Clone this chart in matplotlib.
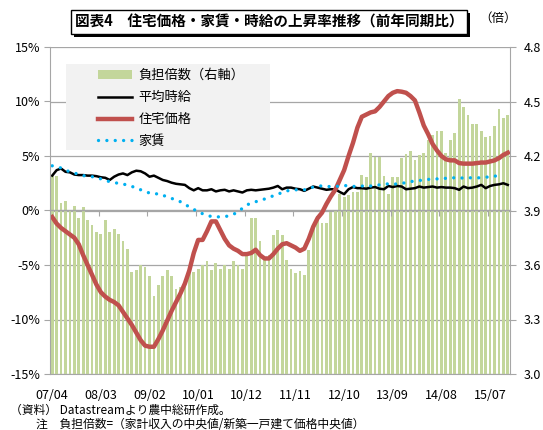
import numpy as np
import pandas as pd
import matplotlib
matplotlib.use("Agg")
import matplotlib.pyplot as plt
import matplotlib.patheffects as pe
from matplotlib.patches import Patch, Rectangle
from matplotlib.lines import Line2D

plt.rcParams['font.family'] = ['Noto Sans CJK JP', 'DejaVu Sans']

# monthly categories 2007/04 - 2015/11
months = list(pd.period_range('2007-04', periods=104, freq='M').strftime('%y/%m'))

# 負担倍数 (right axis, times)
burden = [4.095, 4.09, 3.94, 3.95, 3.90, 3.925, 3.86, 3.92, 3.85, 3.82,
          3.78, 3.77, 3.85, 3.78, 3.80, 3.77, 3.73, 3.69, 3.56, 3.57,
          3.60, 3.59, 3.54, 3.43, 3.49, 3.54, 3.57, 3.54, 3.47, 3.48,
          3.52, 3.56, 3.56, 3.58, 3.60, 3.62, 3.57, 3.61, 3.58, 3.60,
          3.58, 3.62, 3.60, 3.58, 3.655, 3.86, 3.86, 3.73, 3.63, 3.655,
          3.765, 3.79, 3.765, 3.63, 3.58, 3.555, 3.565, 3.545, 3.68, 3.82,
          3.87, 3.83, 3.83, 3.89, 3.895, 3.99, 3.975, 3.985, 4.00, 4.00,
          4.095, 4.085, 4.215, 4.195, 4.195, 4.09, 3.99, 4.085, 4.085, 4.19,
          4.21, 4.23, 4.18, 4.205, 4.215, 4.29, 4.315, 4.335, 4.34, 4.215,
          4.29, 4.325, 4.515, 4.47, 4.425, 4.375, 4.375, 4.34, 4.305, 4.31,
          4.365, 4.46, 4.41, 4.425]

# 平均時給 (%)
wage = [3.2, 3.7, 3.85, 3.55, 3.5, 3.3, 3.25, 3.25, 3.2, 3.2,
        3.15, 3.05, 3.0, 2.8, 3.1, 3.3, 3.4, 3.25, 3.5, 3.65,
        3.6, 3.4, 3.1, 3.2, 3.0, 2.8, 2.7, 2.55, 2.45, 2.4,
        2.35, 2.05, 1.85, 2.05, 1.85, 1.85, 1.95, 1.75, 1.85, 1.9,
        1.75, 1.85, 1.75, 1.65, 1.85, 1.9, 1.85, 1.9, 1.95, 2.0,
        2.1, 2.25, 1.95, 2.1, 2.1, 2.0, 1.95, 1.8, 2.0, 2.2,
        2.1, 2.0, 1.9, 1.95, 1.95, 1.7, 1.5, 1.95, 2.15, 2.05,
        2.05, 2.0, 2.1, 2.15, 2.0, 1.95, 2.25, 2.15, 2.25, 2.2,
        1.95, 2.0, 2.05, 2.2, 2.1, 2.15, 2.2, 2.1, 2.15, 2.1,
        2.1, 2.05, 1.9, 2.2, 2.05, 2.1, 2.2, 2.35, 2.05, 2.25,
        2.35, 2.4, 2.5, 2.35]

# 住宅価格 (%)
house = [-0.6, -1.2, -1.6, -1.9, -2.2, -2.5, -3.1, -4.1, -5.0, -5.9,
         -6.8, -7.5, -7.9, -8.2, -8.4, -8.7, -9.3, -9.9, -10.5, -11.2,
         -11.9, -12.4, -12.5, -12.5, -11.8, -11.0, -10.1, -9.2, -8.4, -7.6,
         -6.7, -5.5, -3.9, -2.7, -2.7, -1.9, -1.0, -1.0, -1.8, -2.6,
         -3.2, -3.5, -3.7, -4.0, -4.0, -3.9, -3.6, -4.1, -4.4, -4.4,
         -4.0, -3.5, -3.1, -3.0, -3.2, -3.4, -3.7, -3.5, -2.6, -1.5,
         -0.7, -0.2, 0.6, 1.3, 1.9, 2.8, 3.7, 5.0, 6.2, 7.6,
         8.6, 8.8, 9.0, 9.1, 9.5, 10.0, 10.5, 10.8, 10.95, 10.9,
         10.8, 10.5, 10.1, 9.0, 7.8, 7.0, 6.1, 5.5, 5.0, 4.7,
         4.6, 4.6, 4.35, 4.3, 4.3, 4.3, 4.35, 4.4, 4.4, 4.5,
         4.6, 4.8, 5.1, 5.3]

# 家賃 (%)
rent = [4.1, 4.0, 3.9, 3.7, 3.55, 3.45, 3.3, 3.2, 3.15, 3.1,
        3.05, 2.9, 2.75, 2.65, 2.55, 2.5, 2.45, 2.3, 2.2, 2.1,
        1.9, 1.75, 1.6, 1.5, 1.55, 1.4, 1.25, 1.1, 1.0, 0.8,
        0.6, 0.3, 0.1, -0.1, -0.3, -0.45, -0.55, -0.6, -0.57, -0.55,
        -0.5, -0.35, -0.1, 0.2, 0.5, 0.7, 0.8, 0.95, 1.05, 1.2,
        1.35, 1.5, 1.65, 1.8, 1.85, 1.9, 1.9, 1.9, 2.0, 2.15,
        2.25, 2.25, 2.2, 2.2, 2.2, 2.25, 2.3, 2.25, 2.2, 2.25,
        2.25, 2.2, 2.25, 2.3, 2.35, 2.4, 2.45, 2.4, 2.45, 2.5,
        2.55, 2.65, 2.7, 2.75, 2.8, 2.85, 2.9, 2.9, 2.95, 2.95,
        3.0, 3.0, 2.95, 3.0, 3.0, 3.0, 3.0, 3.0, 3.05, 3.1,
        3.15, 3.2, np.nan, np.nan]

labels = ['負担倍数（右軸）', '平均時給', '住宅価格', '家賃']

green = '#c3d69b'
red = '#c0504d'
blue = '#00b0f0'
gray = '#a6a6a6'

x = np.arange(len(months))

fig = plt.figure(figsize=(5.43, 4.30), dpi=100)
ax = fig.add_axes([50/543, 1-374/430, 460/543, 327/430])
ax2 = ax.twinx()
ax.set_zorder(ax2.get_zorder() + 1)
ax.patch.set_visible(False)

# bars on right axis
ax2.bar(x, burden, width=0.62, color=green, zorder=2)
ax2.set_ylim(3.0, 4.8)
ax2.set_yticks(np.arange(3.0, 4.81, 0.3))
ax2.yaxis.set_major_formatter(lambda v, p: f'{v:.1f}')
ax2.grid(axis='y', color=gray, lw=0.9)
ax2.set_axisbelow(True)

# lines on left axis
dots = (0, (0.01, 2.5))
ax.plot(x, wage, color='black', lw=1.8)
ax.plot(x, house, color=red, lw=3.2)
ax.plot(x, rent, color=blue, lw=2.4, ls=dots, dash_capstyle='round')

ax.set_ylim(-15, 15)
ax.set_yticks(np.arange(-15, 16, 5))
ax.yaxis.set_major_formatter(lambda v, p: f'{int(v)}%')
ax.set_xlim(-0.5, len(months) - 0.5)
ax.set_xticks(x[::11])
ax.set_xticklabels(months[::11])
ax.tick_params(axis='x', length=0, pad=11, labelsize=9)
ax.tick_params(axis='y', direction='out', length=4, color=gray, labelsize=9, pad=3)
ax2.tick_params(axis='y', direction='out', length=4, color=gray, labelsize=9, pad=6)

for s in ['top', 'right']:
    ax.spines[s].set_visible(False)
ax.spines['left'].set_color(gray)
ax.spines['bottom'].set_color(gray)
for s in ['top', 'left', 'bottom']:
    ax2.spines[s].set_visible(False)
ax2.spines['right'].set_color(gray)

# category axis crossing at 0%
sec = ax.secondary_xaxis(0.5)
sec.set_alignment('bottom')
sec.set_xticks(x[11::11] - 0.5)
sec.set_xticklabels([])
sec.tick_params(axis='x', direction='out', length=4, color=gray)
sec.spines['bottom'].set_color(gray)
sec.spines['bottom'].set_linewidth(1.0)

# legend: grey panel + entries
fig.patches.append(Rectangle((66/543, 1-150/430), 204/543, 86/430,
                             transform=fig.transFigure, fc='#f2f2f2', ec='none', zorder=0.5))
handles = [Patch(fc=green, ec='none'),
           Line2D([], [], color='black', lw=1.8),
           Line2D([], [], color=red, lw=3.2),
           Line2D([], [], color=blue, lw=2.4, ls=dots, dash_capstyle='round')]
leg = ax.legend(handles, labels, loc='upper left',
                bbox_to_anchor=(98/543, 1-69/430),
                bbox_transform=fig.transFigure, frameon=False,
                fontsize=9.5, handlelength=2.6, handleheight=0.6,
                labelspacing=0.68, borderpad=0, handletextpad=0.45,
                borderaxespad=0)

t = fig.text(269/543, 1-22/430, '図表4　住宅価格・家賃・時給の上昇率推移（前年同期比）',
             ha='center', va='center', fontsize=10.5, fontweight='bold',
             bbox=dict(boxstyle='square,pad=0.25', fc='white', ec='black', lw=1.0))
t.get_bbox_patch().set_path_effects([pe.SimplePatchShadow(offset=(2.2, -2.2), shadow_rgbFace='black', alpha=1), pe.Normal()])

fig.text(498/543, 1-18/430, '（倍）', ha='center', va='center', fontsize=9)
fig.text(10/543, 1-410/430, '（資料） Datastreamより農中総研作成。', va='center', fontsize=8.5)
fig.text(36/543, 1-425/430, '注　負担倍数=（家計収入の中央値/新築一戸建て価格中央値）', va='center', fontsize=8.5)

fig.savefig('out.png', dpi=100)
